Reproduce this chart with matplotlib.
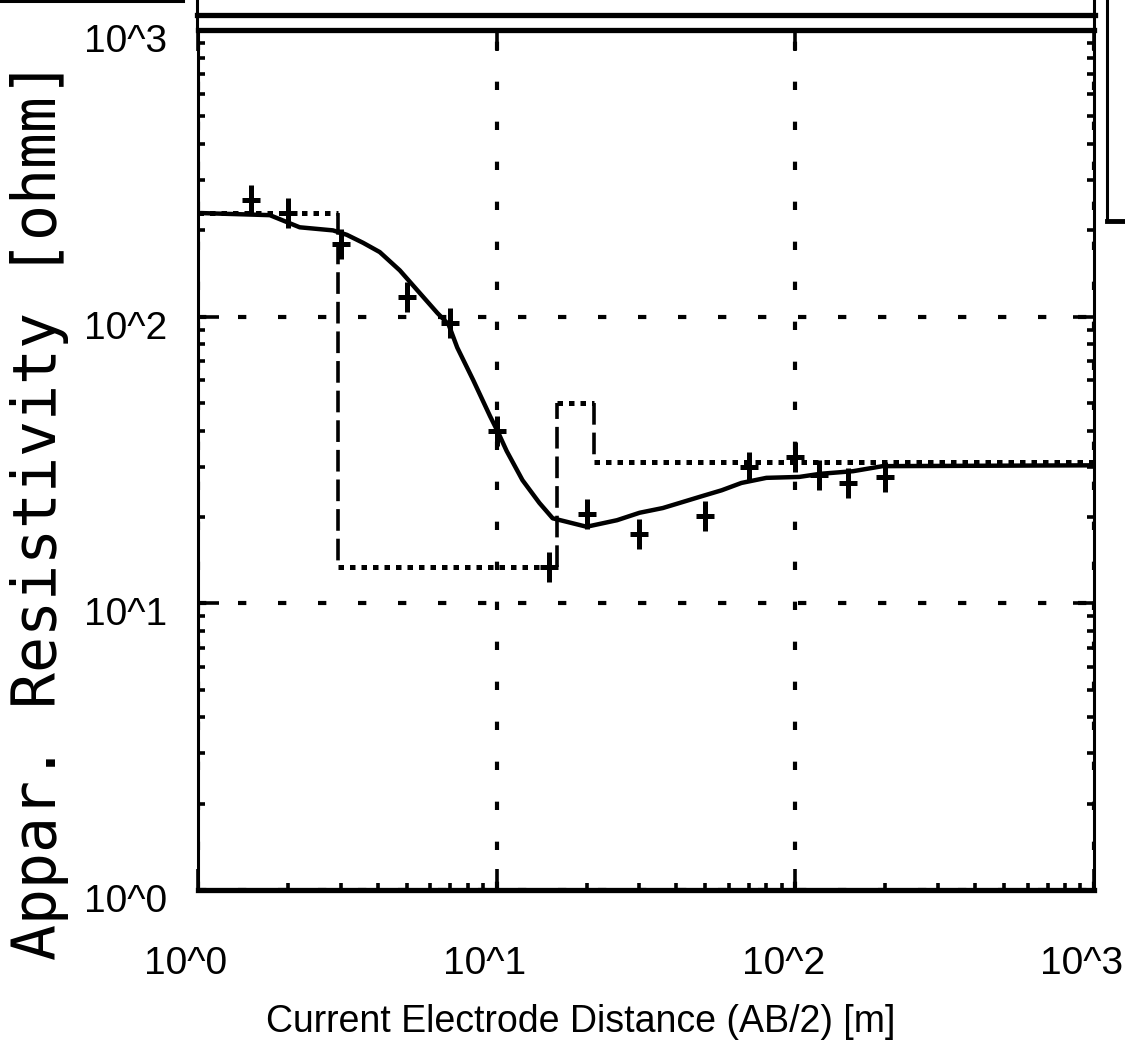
import matplotlib
matplotlib.use("Agg")
import matplotlib.pyplot as plt
import matplotlib.transforms as mtransforms
from matplotlib.lines import Line2D
from matplotlib.path import Path
from matplotlib.ticker import LogLocator, NullFormatter

# --- data ---
# measured apparent resistivity (AB/2 [m] -> rho_a [ohmm])
ab2_measured = [1.5, 2, 3, 5, 7, 10, 15, 20, 30, 50, 70, 100, 120, 150, 200]
rho_measured = [255, 230, 179, 117, 95, 40, 13.4, 20.5, 17.5, 20.2, 30, 32.4, 28, 26.3, 27.6]

# calculated response of the layered model
ab2_model = [1.0, 1.74, 2.19, 2.83, 3.15, 3.57, 4.06, 4.74, 5.41, 6.33, 6.9, 7.38,
             8.35, 9.5, 10.1, 10.8, 12.2, 13.9, 15.4, 20, 25.3, 30.1, 36, 41, 49,
             56.7, 66, 80, 103, 121, 156, 196, 1000]
rho_model = [230, 226, 205, 200, 193, 181, 168, 145, 124, 103, 94, 78,
             60, 45, 39.6, 34, 26.9, 22.4, 19.8, 18.5, 19.5, 20.7, 21.5, 22.4, 23.7,
             24.8, 26.3, 27.4, 27.6, 28.3, 28.9, 30.1, 30.3]

# layered earth model: resistivities and layer bottoms
layer_rho = [230, 13.4, 50, 31]
layer_depth = [2.95, 15.9, 21.2]

x_ticks = [1, 10, 100, 1000]
x_tick_labels = ["10^0", "10^1", "10^2", "10^3"]
y_ticks = [1, 10, 100, 1000]
y_tick_labels = ["10^0", "10^1", "10^2", "10^3"]

W, H = 1125, 1056
TICK_FONT = ["Liberation Sans", "DejaVu Sans"]
MONO_FONT = ["DejaVu Sans Mono"]


def fx(px):
    return px / W


def fy(py):
    return 1 - py / H


fig = plt.figure(figsize=(W / 100, H / 100), dpi=100)
ax = fig.add_axes([fx(198), fy(890), fx(1094) - fx(198), fy(30) - fy(890)])
ax.set_xscale("log")
ax.set_yscale("log")
ax.set_xlim(1, 1000)
ax.set_ylim(1, 1000)

# grid (sparse dots at the decades)
ax.grid(True, which="major", color="black", linestyle=(0, (2.0, 7.6)), linewidth=3.0)

# layered model: dotted horizontals, dashed verticals
bounds = [1] + layer_depth + [1000]
for i, rho in enumerate(layer_rho):
    ax.plot([bounds[i], bounds[i + 1]], [rho, rho], color="black",
            linestyle=(0, (1.1, 1.2)), linewidth=3.6, solid_capstyle="butt")
for i, d in enumerate(layer_depth):
    ax.plot([d, d], [layer_rho[i], layer_rho[i + 1]], color="black",
            linestyle=(0, (6, 2.2)), linewidth=2.6)

# model curve
ax.plot(ab2_model, rho_model, color="black", linewidth=3.2)

# field data as tall plus signs
plus = Path([(-0.65, 0), (0.65, 0), (0, -1), (0, 1)],
            [Path.MOVETO, Path.LINETO, Path.MOVETO, Path.LINETO])
ax.plot(ab2_measured, rho_measured, linestyle="none", marker=plus,
        markersize=21, markeredgewidth=3.6, color="black")

# axes frame
ax.spines["left"].set_linewidth(2.2)
ax.spines["right"].set_linewidth(2.2)
ax.spines["bottom"].set_linewidth(3.8)
ax.spines["top"].set_linewidth(3.8)

ax.xaxis.set_minor_locator(LogLocator(base=10, subs=range(2, 10)))
ax.yaxis.set_minor_locator(LogLocator(base=10, subs=range(2, 10)))
ax.xaxis.set_minor_formatter(NullFormatter())
ax.yaxis.set_minor_formatter(NullFormatter())
ax.set_xticks(x_ticks)
ax.set_xticklabels(x_tick_labels, family=TICK_FONT, fontsize=28)
ax.set_yticks(y_ticks)
ax.set_yticklabels(y_tick_labels, family=TICK_FONT, fontsize=28)
ax.tick_params(which="major", direction="in", length=15, width=2.6,
               top=True, right=True, bottom=True, left=True)
ax.tick_params(axis="x", which="major", pad=40)
ax.tick_params(axis="y", which="major", pad=22)
ax.tick_params(which="minor", direction="in", length=5, width=2.6,
               top=False, right=True, bottom=True, left=True)

shift_x = mtransforms.ScaledTranslation(-0.12, 0, fig.dpi_scale_trans)
for lbl in ax.get_xticklabels():
    lbl.set_transform(lbl.get_transform() + shift_x)
shift_y = mtransforms.ScaledTranslation(0, -0.08, fig.dpi_scale_trans)
for lbl in ax.get_yticklabels():
    lbl.set_transform(lbl.get_transform() + shift_y)

ax.set_xlabel("Current Electrode Distance (AB/2) [m]", family=TICK_FONT, fontsize=27)
ax.xaxis.set_label_coords((581 - 198) / 896, (890 - 1022) / 860)
ax.xaxis.label.set_verticalalignment("center")

ax.set_ylabel("Appar. Resistivity [ohmm]", family=MONO_FONT, fontsize=43)
ax.yaxis.set_label_coords((40 - 198) / 896, (890 - 510) / 860)
ax.yaxis.label.set_verticalalignment("center")

# screen frame pieces around the plot window
frame = [
    ([0, 183], [1, 1], 2.2),
    ([197, 197], [0, 30], 2.2),
    ([197, 1095], [15, 15], 3.8),
    ([1094, 1094], [0, 30], 2.2),
    ([1107, 1107], [0, 221], 2.2),
    ([1107, 1125], [221, 221], 3.5),
]
for xs, ys, lw in frame:
    fig.add_artist(Line2D([fx(v) for v in xs], [fy(v) for v in ys],
                          transform=fig.transFigure, color="black", linewidth=lw))

fig.savefig("out.png", dpi=100, facecolor="white")
